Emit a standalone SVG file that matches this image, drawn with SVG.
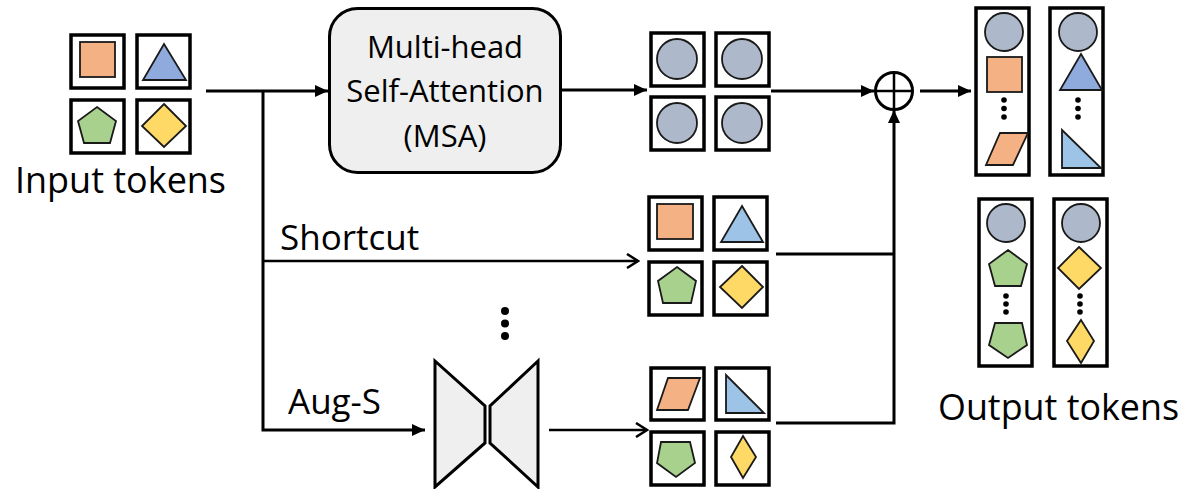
<svg xmlns="http://www.w3.org/2000/svg" width="1199" height="489" viewBox="0 0 1199 489">
<defs>
<style>
.tile{fill:#fff;stroke:#000;stroke-width:3.5}
.sh{stroke:#1a1a1a;stroke-width:1.8;stroke-linejoin:miter}
.or{fill:#f4b183}
.bl{fill:#8faadc}
.lb{fill:#9dc3e6}
.gr{fill:#a9d18e}
.ye{fill:#ffd966}
.gy{fill:#adb9ca}
.ln{fill:none;stroke:#000;stroke-width:3}
.thin{fill:none;stroke:#000;stroke-width:2.5}
.txt{font-family:"Open Sans","Liberation Sans",sans-serif;fill:#000}
.dot{fill:#000}
</style>
<marker id="fa" markerUnits="userSpaceOnUse" markerWidth="14" markerHeight="14" refX="13" refY="7" orient="auto">
<path d="M0,1 L13,7 L0,13 z" fill="#000"/>
</marker>
<marker id="oa" markerUnits="userSpaceOnUse" markerWidth="14" markerHeight="16" refX="12" refY="8" orient="auto">
<path d="M1,1 L12,8 L1,15" fill="none" stroke="#000" stroke-width="2.5"/>
</marker>
</defs>
<rect width="1199" height="489" fill="#fff"/>

<g id="connectors">
<path class="ln" d="M206,91 H328" marker-end="url(#fa)"/>
<path class="ln" d="M263,91 V430 H425" marker-end="url(#fa)"/>
<path class="thin" d="M263,261 H638" marker-end="url(#oa)"/>
<path class="ln" d="M562,90 H647" marker-end="url(#fa)"/>
<path class="ln" d="M771,91 H874" marker-end="url(#fa)"/>
<path class="ln" d="M776,254 H894"/>
<path class="ln" d="M776,423 H894 V110" marker-end="url(#fa)"/>
<path class="ln" d="M920,91 H971" marker-end="url(#fa)"/>
<path class="thin" d="M549,430 H647" marker-end="url(#oa)"/>
</g>

<g id="input-tokens">
<rect class="tile" x="71" y="35" width="53" height="53"/>
<rect class="tile" x="137" y="35" width="53" height="53"/>
<rect class="tile" x="71" y="100" width="53" height="53"/>
<rect class="tile" x="137" y="100" width="53" height="53"/>
<rect class="sh or" x="80" y="42" width="35" height="35"/>
<polygon class="sh bl" points="164,44 186,80 143,80"/>
<polygon class="sh gr" points="97,107 116,121 110,143 84,143 78,121"/>
<polygon class="sh ye" points="164,104 186,126 164,147 142,126"/>
<text class="txt" x="15" y="193" font-size="37" textLength="211" lengthAdjust="spacingAndGlyphs">Input tokens</text>
</g>

<g id="msa">
<rect x="329.5" y="8.5" width="231" height="164" rx="28" fill="#efefef" stroke="#000" stroke-width="3"/>
<text class="txt" x="445" y="58" font-size="31" text-anchor="middle">Multi-head</text>
<text class="txt" x="445" y="102" font-size="31" text-anchor="middle">Self-Attention</text>
<text class="txt" x="445" y="147" font-size="31" text-anchor="middle">(MSA)</text>
</g>

<g id="msa-tokens">
<rect class="tile" x="651" y="33" width="53" height="53"/>
<rect class="tile" x="716" y="33" width="53" height="53"/>
<rect class="tile" x="651" y="97" width="53" height="53"/>
<rect class="tile" x="716" y="97" width="53" height="53"/>
<circle class="sh gy" cx="677" cy="59" r="20"/>
<circle class="sh gy" cx="742" cy="59" r="20"/>
<circle class="sh gy" cx="677" cy="123" r="20"/>
<circle class="sh gy" cx="742" cy="123" r="20"/>
</g>

<g id="add">
<circle cx="894" cy="91" r="18.5" fill="#fff" stroke="#000" stroke-width="3"/>
<path d="M875.5,91 H912.5 M894,72.5 V109.5" stroke="#000" stroke-width="2.5"/>
</g>

<g id="shortcut-label">
<text class="txt" x="280" y="250" font-size="35">Shortcut</text>
</g>

<g id="shortcut-tokens">
<rect class="tile" x="649" y="197" width="53" height="53"/>
<rect class="tile" x="714" y="197" width="53" height="53"/>
<rect class="tile" x="649" y="262" width="53" height="53"/>
<rect class="tile" x="714" y="262" width="53" height="53"/>
<rect class="sh or" x="657" y="204" width="36" height="35"/>
<polygon class="sh lb" points="742,206 763,242 721,242"/>
<polygon class="sh gr" points="677,267 696,281 691,303 663,303 658,281"/>
<polygon class="sh ye" points="742,266 763,287 742,308 720,287"/>
</g>

<g id="more-branches">
<circle class="dot" cx="505" cy="311" r="4"/>
<circle class="dot" cx="505" cy="323.5" r="4"/>
<circle class="dot" cx="505" cy="336" r="4"/>
</g>

<g id="aug-label">
<text class="txt" x="288" y="414" font-size="35">Aug-S</text>
</g>

<g id="aug-module">
<polygon points="435,361 485,406 485,443 435,487" fill="#efefef" stroke="#000" stroke-width="3" stroke-linejoin="miter"/>
<polygon points="538,361 490,406 490,443 538,487" fill="#efefef" stroke="#000" stroke-width="3" stroke-linejoin="miter"/>
</g>

<g id="aug-tokens">
<rect class="tile" x="651" y="368" width="53" height="52"/>
<rect class="tile" x="716" y="368" width="53" height="52"/>
<rect class="tile" x="651" y="432" width="53" height="53"/>
<rect class="tile" x="716" y="432" width="53" height="53"/>
<polygon class="sh or" points="668,378 700,378 688,410 657,410"/>
<polygon class="sh lb" points="726,375 726,413 764,413"/>
<polygon class="sh gr" points="661,442 690,442 695,463 676,477 657,463"/>
<polygon class="sh ye" points="743,436 756,457 743,478 731,457"/>
</g>

<g id="output-tokens">
<rect class="tile" x="976" y="8" width="53" height="167"/>
<rect class="tile" x="1050" y="8" width="53" height="167"/>
<rect class="tile" x="979" y="199" width="53" height="167"/>
<rect class="tile" x="1054" y="199" width="53" height="167"/>
<circle class="sh gy" cx="1004" cy="32" r="19"/>
<rect class="sh or" x="987" y="57" width="35" height="35"/>
<circle class="dot" cx="1004" cy="100" r="2.8"/>
<circle class="dot" cx="1004" cy="108.5" r="2.8"/>
<circle class="dot" cx="1004" cy="117" r="2.8"/>
<polygon class="sh or" points="1000,133 1028,133 1013,165 986,165"/>
<circle class="sh gy" cx="1078" cy="32" r="19"/>
<polygon class="sh bl" points="1081,54 1102,90 1060,90"/>
<circle class="dot" cx="1078" cy="100" r="2.8"/>
<circle class="dot" cx="1078" cy="108.5" r="2.8"/>
<circle class="dot" cx="1078" cy="117" r="2.8"/>
<polygon class="sh lb" points="1062,130 1062,168 1101,168"/>
<circle class="sh gy" cx="1006" cy="223" r="19"/>
<polygon class="sh gr" points="1008,250 1027,264 1021,286 995,286 989,264"/>
<circle class="dot" cx="1006" cy="296" r="2.8"/>
<circle class="dot" cx="1006" cy="304" r="2.8"/>
<circle class="dot" cx="1006" cy="312" r="2.8"/>
<polygon class="sh gr" points="995,323 1022,323 1027,345 1008,358 989,345"/>
<circle class="sh gy" cx="1081" cy="223" r="19"/>
<polygon class="sh ye" points="1079,247 1101,268 1079,289 1058,268"/>
<circle class="dot" cx="1080" cy="296" r="2.8"/>
<circle class="dot" cx="1080" cy="304" r="2.8"/>
<circle class="dot" cx="1080" cy="312" r="2.8"/>
<polygon class="sh ye" points="1081,320 1094,341 1081,363 1067,341"/>
<text class="txt" x="938" y="420" font-size="36" textLength="241" lengthAdjust="spacingAndGlyphs">Output tokens</text>
</g>
</svg>
